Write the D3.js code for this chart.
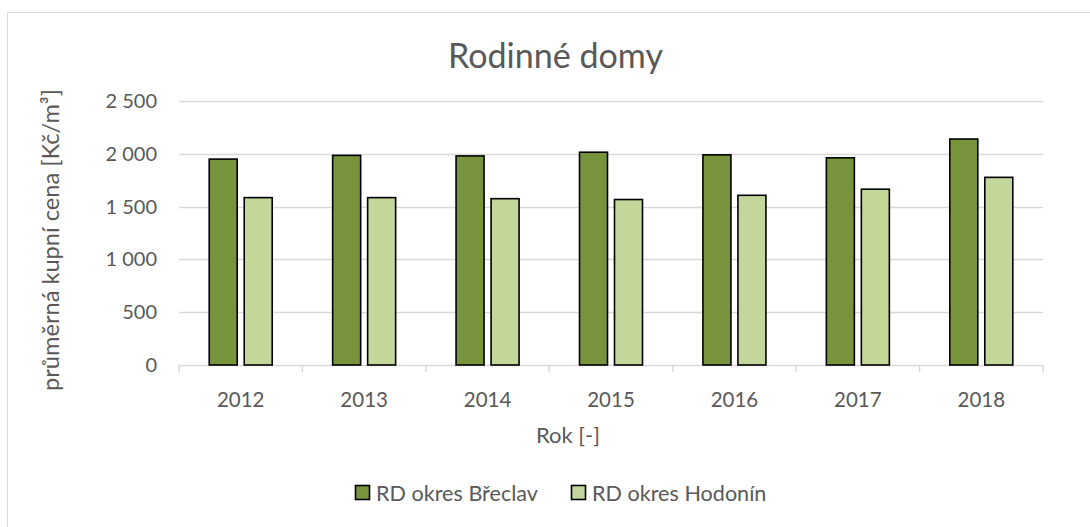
<!DOCTYPE html>
<html>
<head>
<meta charset="utf-8">
<script src="https://cdn.jsdelivr.net/npm/d3@7"></script>
<style>
  html, body { margin: 0; padding: 0; background: #fff; }
  svg { display: block; font-family: Lato, "Open Sans", sans-serif; }
</style>
</head>
<body>
<svg id="chart" width="1090" height="527"></svg>
<script>
const title = "Rodinné domy";
const yTitle = "průměrná kupní cena [Kč/m³]";
const xTitle = "Rok [-]";
const years = ["2012", "2013", "2014", "2015", "2016", "2017", "2018"];
const seriesNames = ["RD okres Břeclav", "RD okres Hodonín"];
const breclav = [1950, 1985, 1980, 2015, 1990, 1962, 2140];
const hodonin = [1585, 1585, 1575, 1567, 1607, 1665, 1777];
const yTicks = [0, 500, 1000, 1500, 2000, 2500];
const colors = ["#77933C", "#C4D79B"];

const svg = d3.select("#chart");
const W = 1090, H = 527;
const plot = { left: 179, right: 1043, top: 101, bottom: 365 };
const textColor = "#595959";
const gridColor = "#D9D9D9";

// scale a text's font size so that it spans the wanted width
function fit(sel, target) {
  const n = sel.node();
  const fs = parseFloat(sel.style("font-size"));
  const w = n.getComputedTextLength();
  if (w > 0) sel.style("font-size", (fs * target / w).toFixed(2) + "px");
  return sel;
}

// outer chart frame
svg.append("path")
  .attr("d", `M7.5,${H + 2} V12.5 H${W + 2}`)
  .attr("fill", "none").attr("stroke", gridColor).attr("stroke-width", 1);

const y = d3.scaleLinear().domain([0, 2500]).range([plot.bottom, plot.top]);
const x = d3.scaleBand().domain(years).range([plot.left, plot.right]).padding(0);
const groupW = 63;
const xs = d3.scaleBand().domain(seriesNames)
  .range([0, groupW]).paddingInner(0.2).paddingOuter(0);

const locale = d3.formatLocale({ decimal: ",", thousands: " ", grouping: [3], currency: ["", ""] });
const fmt = locale.format(",d");

// gridlines
svg.append("g").selectAll("line").data(yTicks.filter(t => t > 0)).join("line")
  .attr("x1", plot.left).attr("x2", plot.right)
  .attr("y1", d => Math.round(y(d)) + 0.5).attr("y2", d => Math.round(y(d)) + 0.5)
  .attr("stroke", gridColor).attr("stroke-width", 1.5);

// y axis labels
const yAxis = d3.axisLeft(y).tickValues(yTicks).tickFormat(fmt).tickSize(0).tickPadding(22);
const gy = svg.append("g").attr("transform", `translate(${plot.left},0)`).call(yAxis);
gy.select(".domain").remove();
gy.selectAll("text").attr("fill", textColor).style("font-size", "20px")
  .style("font-family", "Lato, 'Open Sans', sans-serif");

// x axis line + boundary ticks
const bounds = years.map(d => x(d)).concat([plot.right]);
svg.append("line").attr("x1", plot.left).attr("x2", plot.right)
  .attr("y1", plot.bottom + 0.5).attr("y2", plot.bottom + 0.5)
  .attr("stroke", gridColor).attr("stroke-width", 1.5);
svg.append("g").selectAll("line").data(bounds).join("line")
  .attr("x1", d => d).attr("x2", d => d)
  .attr("y1", plot.bottom).attr("y2", plot.bottom + 7)
  .attr("stroke", gridColor).attr("stroke-width", 1.5);

// x labels
const xAxis = d3.axisBottom(x).tickSize(0).tickPadding(27);
const gx = svg.append("g").attr("transform", `translate(0,${plot.bottom})`).call(xAxis);
gx.select(".domain").remove();
gx.selectAll("text").attr("fill", textColor).style("font-size", "20.5px")
  .style("font-family", "Lato, 'Open Sans', sans-serif");

// bars
const data = years.map((yr, i) => ({ year: yr, vals: [breclav[i], hodonin[i]] }));
const groups = svg.append("g").selectAll("g").data(data).join("g")
  .attr("transform", d => `translate(${x(d.year) + x.bandwidth() / 2 - groupW / 2},0)`);
groups.selectAll("rect").data(d => d.vals.map((v, j) => ({ name: seriesNames[j], v, j }))).join("rect")
  .attr("x", d => xs(d.name))
  .attr("width", xs.bandwidth())
  .attr("y", d => y(d.v))
  .attr("height", d => y(0) - y(d.v))
  .attr("fill", d => colors[d.j])
  .attr("stroke", "#000").attr("stroke-width", 1.6);

// title
const tt = svg.append("text").attr("x", 555.5).attr("y", 68).attr("text-anchor", "middle")
  .attr("fill", textColor).style("font-size", "31px").text(title);
fit(tt, 215);

// y title
const yt = svg.append("text").attr("transform", `translate(59,${240}) rotate(-90)`)
  .attr("text-anchor", "middle").attr("fill", textColor).style("font-size", "20px").text(yTitle);
fit(yt, 302);

// x title
const xt = svg.append("text").attr("x", 568).attr("y", 443).attr("text-anchor", "middle")
  .attr("fill", textColor).style("font-size", "20px").text(xTitle);
fit(xt, 64);

// legend
const legendX = [355, 571];
const lg = svg.append("g").selectAll("g").data(seriesNames).join("g")
  .attr("transform", (d, i) => `translate(${legendX[i]},485)`);
lg.append("rect").attr("x", 0.5).attr("y", 0.5).attr("width", 14).attr("height", 14)
  .attr("fill", (d, i) => colors[i]).attr("stroke", "#000").attr("stroke-width", 1.6);
lg.append("text").attr("x", 21).attr("y", 15.5).attr("fill", textColor)
  .style("font-size", "21.6px").text(d => d);
</script>
</body>
</html>
